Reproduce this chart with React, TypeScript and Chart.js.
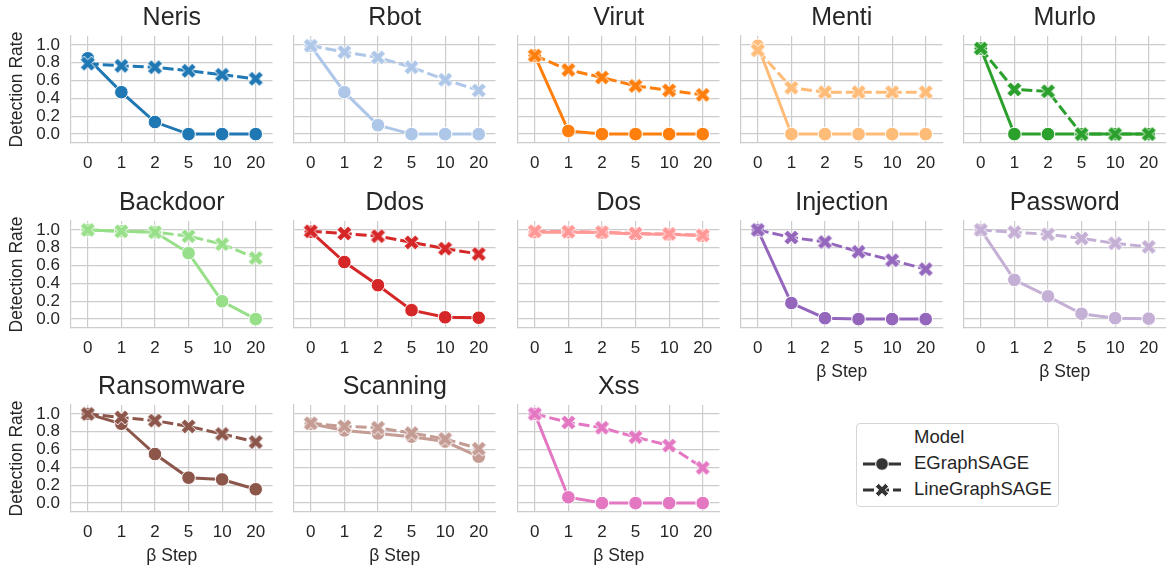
import React, { useEffect, useRef } from 'react';
import { Chart, registerables } from 'chart.js';

Chart.register(...registerables);

const FONT = '"Liberation Sans", Arial, Helvetica, sans-serif';
const TEXT = '#262626';
const GRID = '#cccccc';

// ---------- data ----------
const X_LABELS = ['0', '1', '2', '5', '10', '20'];
const Y_TICKS = [0, 0.2, 0.4, 0.6, 0.8, 1.0];
const X_TITLE = 'β Step';
const Y_TITLE = 'Detection Rate';
const LEGEND_TITLE = 'Model';
const MODELS = ['EGraphSAGE', 'LineGraphSAGE'];

const ATTACKS = [
  'Neris', 'Rbot', 'Virut', 'Menti', 'Murlo',
  'Backdoor', 'Ddos', 'Dos', 'Injection', 'Password',
  'Ransomware', 'Scanning', 'Xss',
];

const COLORS = [
  '#1f77b4', '#aec7e8', '#ff7f0e', '#ffbb78', '#2ca02c',
  '#98df8a', '#d62728', '#ff9896', '#9467bd', '#c5b0d5',
  '#8c564b', '#c49c94', '#e377c2',
];

// EGraphSAGE detection rate per attack (rows follow ATTACKS)
const EGRAPHSAGE = [
  [0.85, 0.47, 0.135, 0.0, 0.0, 0.0],
  [0.99, 0.47, 0.10, 0.0, 0.0, 0.0],
  [0.88, 0.035, 0.0, 0.0, 0.0, 0.0],
  [0.99, 0.0, 0.0, 0.0, 0.0, 0.0],
  [0.96, 0.0, 0.0, 0.0, 0.0, 0.0],
  [1.0, 0.985, 0.975, 0.74, 0.20, 0.0],
  [0.98, 0.64, 0.38, 0.10, 0.02, 0.015],
  [0.975, 0.975, 0.97, 0.955, 0.95, 0.935],
  [1.0, 0.18, 0.01, 0.0, 0.0, 0.0],
  [1.0, 0.44, 0.255, 0.06, 0.01, 0.005],
  [1.0, 0.89, 0.55, 0.285, 0.265, 0.155],
  [0.89, 0.815, 0.78, 0.745, 0.69, 0.52],
  [1.0, 0.065, 0.0, 0.0, 0.0, 0.0],
];

// LineGraphSAGE detection rate per attack (rows follow ATTACKS)
const LINEGRAPHSAGE = [
  [0.79, 0.765, 0.75, 0.71, 0.665, 0.62],
  [0.99, 0.92, 0.86, 0.75, 0.61, 0.49],
  [0.88, 0.72, 0.635, 0.54, 0.49, 0.44],
  [0.94, 0.52, 0.47, 0.47, 0.47, 0.47],
  [0.96, 0.50, 0.48, 0.0, 0.0, 0.0],
  [1.0, 0.985, 0.975, 0.93, 0.84, 0.685],
  [0.985, 0.96, 0.93, 0.86, 0.79, 0.73],
  [0.985, 0.98, 0.975, 0.96, 0.955, 0.94],
  [1.0, 0.915, 0.865, 0.755, 0.66, 0.56],
  [1.0, 0.975, 0.95, 0.905, 0.85, 0.81],
  [1.0, 0.96, 0.925, 0.86, 0.775, 0.685],
  [0.895, 0.86, 0.845, 0.785, 0.72, 0.61],
  [1.0, 0.905, 0.845, 0.74, 0.645, 0.395],
];

// ---------- layout ----------
const NCOLS = 5;
const PLOT_W = 206;
const PLOT_H = 107;
const COL_X0 = 71;
const COL_DX = 223.3;
const ROW_Y0 = 36;
const ROW_DY = 184.5;
const Y_AXIS_W = 71;
const TITLE_H = 36;
const X_AXIS_H = 56;
const PAD_R = 6;
const CANVAS_W = Y_AXIS_W + PLOT_W + PAD_R;
const CANVAS_H = TITLE_H + PLOT_H + X_AXIS_H;

function makeXMarker(color: string, size: number) {
  const pad = 2;
  const dim = Math.ceil(size + pad * 2);
  const c = document.createElement('canvas');
  c.width = dim;
  c.height = dim;
  const ctx = c.getContext('2d') as CanvasRenderingContext2D;
  const u = size / 4;
  const pts = [[-1, -2], [0, -1], [1, -2], [2, -1], [1, 0], [2, 1], [1, 2], [0, 1], [-1, 2], [-2, 1], [-1, 0], [-2, -1]];
  ctx.translate(dim / 2, dim / 2);
  ctx.beginPath();
  pts.forEach(([x, y], i) => (i ? ctx.lineTo(x * u, y * u) : ctx.moveTo(x * u, y * u)));
  ctx.closePath();
  ctx.fillStyle = color;
  ctx.fill();
  ctx.strokeStyle = '#ffffff';
  ctx.lineWidth = 1;
  ctx.stroke();
  return c;
}

function Panel({ index }: { index: number }) {
  const ref = useRef<HTMLCanvasElement | null>(null);
  const col = index % NCOLS;
  const row = Math.floor(index / NCOLS);
  const plotLeft = COL_X0 + col * COL_DX;
  const plotTop = ROW_Y0 + row * ROW_DY;
  const left = Math.round(plotLeft - Y_AXIS_W);
  const top = Math.round(plotTop - TITLE_H);

  useEffect(() => {
    const showY = col === 0;
    const showXTitle = index >= ATTACKS.length - NCOLS;
    const color = COLORS[index];
    const xImg = makeXMarker(color, 15);
    const chart = new Chart(ref.current as HTMLCanvasElement, {
      type: 'line',
      data: {
        labels: X_LABELS,
        datasets: [
          {
            label: MODELS[0],
            data: EGRAPHSAGE[index],
            borderColor: color,
            backgroundColor: color,
            borderWidth: 3,
            pointStyle: 'circle',
            pointRadius: 6.8,
            pointBackgroundColor: color,
            pointBorderColor: '#ffffff',
            pointBorderWidth: 1,
            tension: 0,
            order: 1,
          },
          {
            label: MODELS[1],
            data: LINEGRAPHSAGE[index],
            borderColor: color,
            backgroundColor: color,
            borderWidth: 3,
            borderDash: [11, 4],
            pointStyle: xImg as any,
            pointRadius: 7.5,
            tension: 0,
            order: 0,
          },
        ],
      },
      options: {
        responsive: false,
        animation: false,
        devicePixelRatio: 1,
        layout: { padding: { left: 0, right: PAD_R, top: 0, bottom: 0 } },
        plugins: {
          legend: { display: false },
          tooltip: { enabled: false },
          title: {
            display: true,
            text: ATTACKS[index],
            color: TEXT,
            fullSize: false,
            font: { family: FONT, size: 25, weight: 'normal' },
            padding: { top: 3.5, bottom: 2.5 },
          },
        },
        scales: {
          x: {
            type: 'category',
            offset: true,
            grid: { color: GRID, lineWidth: 1.2, drawTicks: false },
            border: { color: GRID, width: 1.2 },
            ticks: {
              color: TEXT,
              font: { family: FONT, size: 17 },
              padding: 10,
              autoSkip: false,
              maxRotation: 0,
            },
            title: {
              display: showXTitle,
              text: X_TITLE,
              color: TEXT,
              font: { family: FONT, size: 17.5 },
              padding: { top: 0, bottom: 1 },
            },
            afterFit: (s: any) => {
              s.height = X_AXIS_H;
            },
          },
          y: {
            type: 'linear',
            min: -0.1,
            max: 1.1,
            afterBuildTicks: (s: any) => {
              s.ticks = Y_TICKS.map((v) => ({ value: v }));
            },
            grid: { color: GRID, lineWidth: 1.2, drawTicks: false },
            border: { color: GRID, width: 1.2 },
            ticks: {
              display: showY,
              autoSkip: false,
              color: TEXT,
              font: { family: FONT, size: 17 },
              padding: 11,
              callback: (v: any) => Number(v).toFixed(1),
            },
            title: {
              display: showY,
              text: Y_TITLE,
              color: TEXT,
              font: { family: FONT, size: 17.5 },
              padding: { top: 6.5, bottom: 0 },
            },
            afterFit: (s: any) => {
              s.width = Y_AXIS_W;
            },
          },
        },
      },
    } as any);
    return () => chart.destroy();
  }, [index, col]);

  return (
    <canvas
      ref={ref}
      width={CANVAS_W}
      height={CANVAS_H}
      style={{ position: 'absolute', left, top, width: CANVAS_W, height: CANVAS_H }}
    />
  );
}

function Legend() {
  const handleColor = '#333333';
  const textStyle: React.CSSProperties = {
    position: 'absolute',
    left: 57,
    fontFamily: FONT,
    fontSize: 18.5,
    lineHeight: '22px',
    color: TEXT,
    whiteSpace: 'nowrap',
  };
  return (
    <div
      style={{
        position: 'absolute',
        left: 856,
        top: 423,
        width: 203,
        height: 84,
        boxSizing: 'border-box',
        border: '1px solid #d6d6d6',
        borderRadius: 4,
        background: '#ffffff',
      }}
    >
      <div style={{ ...textStyle, top: 14 - 11 - 1 }}>{LEGEND_TITLE}</div>
      <svg style={{ position: 'absolute', left: 6, top: 30 }} width={40} height={20}>
        <line x1={0} y1={10} x2={38} y2={10} stroke={handleColor} strokeWidth={3} />
        <circle cx={19} cy={10} r={6.3} fill={handleColor} stroke="#fff" strokeWidth={1} />
      </svg>
      <div style={{ ...textStyle, top: 40 - 11 - 1 }}>{MODELS[0]}</div>
      <svg style={{ position: 'absolute', left: 6, top: 56 }} width={40} height={20}>
        <line x1={0} y1={10} x2={38} y2={10} stroke={handleColor} strokeWidth={3} strokeDasharray="11 4" />
        <polygon
          points="17.25,5.5 19,7.25 20.75,5.5 22.5,7.25 20.75,9 22.5,10.75 20.75,12.5 19,10.75 17.25,12.5 15.5,10.75 17.25,9 15.5,7.25"
          transform="translate(19 10) scale(1.9) translate(-19 -9)"
          fill={handleColor}
          stroke="#fff"
          strokeWidth={0.5}
        />
      </svg>
      <div style={{ ...textStyle, top: 66 - 11 - 1 }}>{MODELS[1]}</div>
    </div>
  );
}

export default function App() {
  return (
    <div
      style={{
        position: 'absolute',
        left: 0,
        top: 0,
        width: 1167,
        height: 570,
        overflow: 'hidden',
        background: '#ffffff',
      }}
    >
      {ATTACKS.map((_, i) => (
        <Panel key={i} index={i} />
      ))}
      <Legend />
    </div>
  );
}
